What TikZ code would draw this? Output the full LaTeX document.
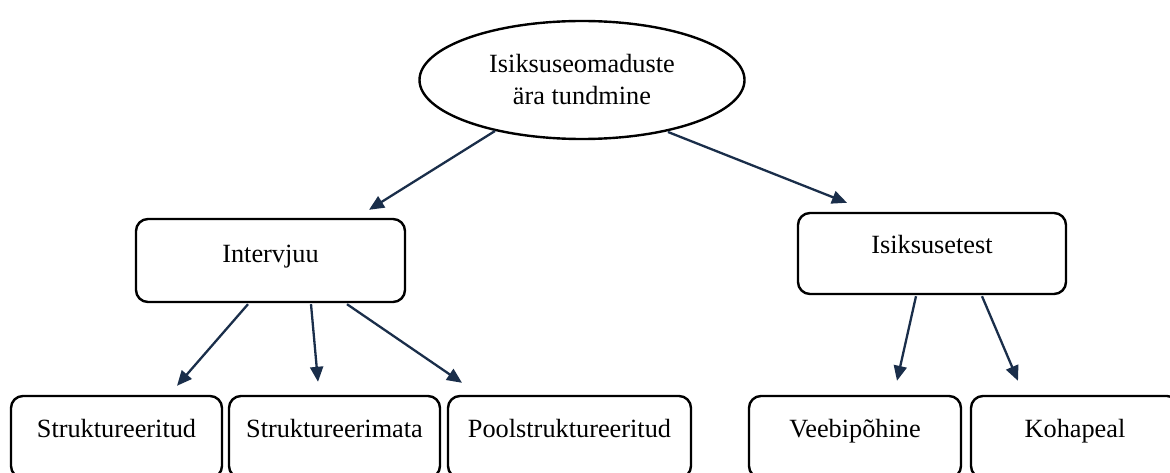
\documentclass[tikz,border=0pt]{standalone}
\usepackage{fontspec}
\setmainfont{Liberation Serif}
\usetikzlibrary{arrows.meta,shapes.geometric}
\definecolor{navy}{RGB}{26,46,74}
\tikzset{
  box/.style={draw=black, line width=2.4pt, rounded corners=12pt, inner sep=0pt},
  lbl/.style={font=\fontsize{26.3}{32}\selectfont, inner sep=0pt, anchor=center,
              text height=18pt, text depth=5pt},
  link/.style={draw=navy, line width=2.3pt, -{Triangle[length=15pt,width=13pt]}},
}
\begin{document}
\begin{tikzpicture}[x=1pt,y=-1pt]
\useasboundingbox (0,0) rectangle (1170,473);
\begin{scope}
\clip (0,0) rectangle (1170,473);
% root
\node[ellipse, draw=black, line width=2.4pt, minimum width=325pt, minimum height=118pt,
      inner sep=0pt, align=center, font=\fontsize{26.3}{32}\selectfont] (top) at (582,80)
      {Isiksuseomaduste\\ära tundmine};
% second level
\node[box, minimum width=269pt, minimum height=83pt] (interv) at (270.5,260.5) {};
\node[lbl] at ([yshift=5]interv.center) {Intervjuu};
\node[box, minimum width=268pt, minimum height=81pt] (test) at (932,253.5) {};
\node[lbl] at ([yshift=6.5]test.center) {Isiksusetest};
% leaves
\node[box, minimum width=211pt, minimum height=82pt] (s1) at (116.5,437) {};
\node[lbl] at ([yshift=6.5]s1.center) {Struktureeritud};
\node[box, minimum width=211pt, minimum height=82pt] (s2) at (334.5,437) {};
\node[lbl] at ([yshift=6.5]s2.center) {Struktureerimata};
\node[box, minimum width=243pt, minimum height=82pt] (s3) at (569.5,437) {};
\node[lbl] at ([yshift=6.5]s3.center) {Poolstruktureeritud};
\node[box, minimum width=212pt, minimum height=82pt] (t1) at (855,437) {};
\node[lbl] at ([yshift=6.5]t1.center) {Veebipõhine};
\node[box, minimum width=208pt, minimum height=82pt] (t2) at (1075,437) {};
\node[lbl] at ([yshift=6.5]t2.center) {Kohapeal};
% connectors
\path[link] ([shift={(-87,51)}]top.center) -- ([shift={(98.5,-8)}]interv.north);
\path[link] ([shift={(86,52)}]top.center) -- ([shift={(-85,-9)}]test.north);
\path[link] ([shift={(-22.5,1)}]interv.south) -- ([shift={(60.5,-9)}]s1.north);
\path[link] ([shift={(40.5,1)}]interv.south) -- ([shift={(-16.5,-13)}]s2.north);
\path[link] ([shift={(76.5,1)}]interv.south) -- ([shift={(-107.5,-12)}]s3.north);
\path[link] ([shift={(-16,1)}]test.south) -- ([shift={(42,-14)}]t1.north);
\path[link] ([shift={(50,1)}]test.south) -- ([shift={(-57,-14)}]t2.north);
\end{scope}
\end{tikzpicture}
\end{document}
